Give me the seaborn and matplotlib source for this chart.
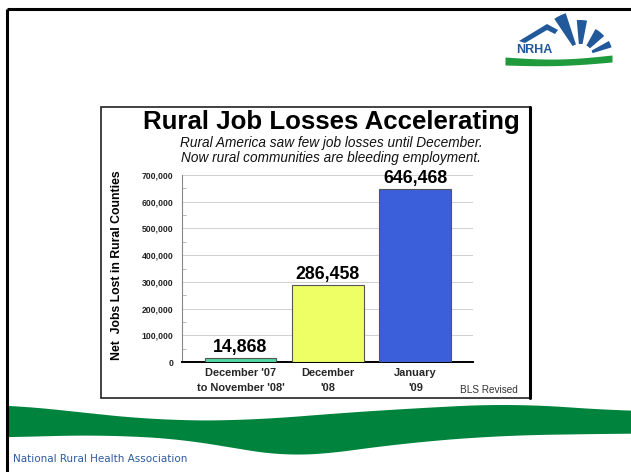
import matplotlib
matplotlib.use("Agg")
import matplotlib.pyplot as plt
import seaborn as sns
import pandas as pd
import numpy as np
from matplotlib.patches import Rectangle, Polygon, Wedge
from matplotlib.ticker import FuncFormatter, MultipleLocator

# ---- data ----
categories = ["December '07\nto November '08'", "December\n'08", "January\n'09"]
jobs_lost = [14868, 286458, 646468]
value_labels = ["14,868", "286,458", "646,468"]
bar_colors = ["#4fd8a2", "#eeff66", "#3b5fdb"]
yticks = [0, 100000, 200000, 300000, 400000, 500000, 600000, 700000]

title = "Rural Job Losses Accelerating"
subtitle = "Rural America saw few job losses until December.\nNow rural communities are bleeding employment."
ylabel = "Net  Jobs Lost in Rural Counties"
source = "BLS Revised"
footer = "National Rural Health Association"

sns.set_theme(style="white")
plt.rcParams['font.family'] = ['Liberation Sans', 'DejaVu Sans']

W, H = 631, 472
fig = plt.figure(figsize=(W / 100, H / 100), dpi=100)

# background / decoration axes in pixel coordinates
bg = fig.add_axes([0, 0, 1, 1])
bg.set_xlim(0, W)
bg.set_ylim(H, 0)
bg.axis("off")

# slide border
bg.plot([7, W], [9, 9], color="black", lw=2.2, solid_capstyle="butt")
bg.plot([7, 7], [9, H], color="black", lw=2.2, solid_capstyle="butt")


def smooth(y, k=25):
    pad = np.pad(y, k, mode="edge")
    ker = np.ones(2 * k + 1) / (2 * k + 1)
    return np.convolve(pad, ker, mode="same")[k:-k]


# green wave
xs_top = [8, 100, 160, 250, 320, 410, 510, 631]
ys_top = [404, 414, 420, 420, 414, 408, 403, 411]
xs_bot = [8, 100, 200, 267, 300, 400, 500, 631]
ys_bot = [437, 434, 440, 455, 457, 443, 435, 433]
xx = np.linspace(8, 631, 300)
top = smooth(np.interp(xx, xs_top, ys_top))
bot = smooth(np.interp(xx, xs_bot, ys_bot))
bg.fill_between(xx, top, bot, color="#00833d", lw=0, zorder=1)

# footer
bg.text(13, 459, footer, fontsize=7.5, color="#2d5a9e", va="center", ha="left",
        family=["DejaVu Sans"])

# NRHA logo (approximation)
cx, cy = 580, 57
blue = "#22599b"
for a1, a2, r1, r2 in [(108, 124, 13, 46), (79, 95, 13, 37), (41, 61, 13, 32),
                       (17, 29, 13, 33)]:
    bg.add_patch(Wedge((cx, cy), r2, -a2, -a1, width=r2 - r1,
                       color=blue, lw=0, zorder=3))
bg.add_patch(Polygon([[519, 41], [547, 24], [558, 30], [555, 34], [547, 30],
                      [525, 43]], closed=True, color=blue, lw=0, zorder=3))
bg.add_patch(Wedge((cx, cy), 13, 180, 360, color="white", lw=0, zorder=3))
lx = np.linspace(505, 612, 60)
t = (lx - 505) / 107
ltop = 57 + 3 * np.sin(t * np.pi) - 2 * t
lbot = 65 + 2 * np.sin(t * np.pi) - 3 * t
bg.fill_between(lx, ltop, lbot, color="#1f9a3c", lw=0, zorder=3)
bg.text(534, 50, "NRHA", fontsize=9, fontweight="bold", color=blue,
        ha="center", va="center", zorder=4)

# chart image frame
bg.add_patch(Rectangle((101, 107), 429, 291, fill=True, facecolor="white",
                       edgecolor="#222222", lw=1.2, zorder=2))
bg.plot([530, 530], [107, 398], color="black", lw=2.2, zorder=3)

bg.text(331, 122, title, fontsize=18.6, fontweight="bold", ha="center",
        va="center", color="black", zorder=3)
bg.text(331, 150.5, subtitle, fontsize=9.8, style="italic", ha="center",
        va="center", color="#111111", linespacing=1.15, zorder=3)
bg.text(518, 390, source, fontsize=7.2, ha="right", va="center",
        color="#333333", zorder=3)
bg.text(117, 265, ylabel, fontsize=8.8, fontweight="bold", rotation=90,
        ha="center", va="center", color="black", zorder=3)

# ---- chart axes ----
ax_left, ax_right, ax_top, ax_bot = 182, 473, 175, 362
ax = fig.add_axes([ax_left / W, 1 - ax_bot / H, (ax_right - ax_left) / W,
                   (ax_bot - ax_top) / H])
ax.set_zorder(5)
ax.patch.set_alpha(0)

df = pd.DataFrame({"period": categories, "jobs": jobs_lost})
sns.barplot(data=df, x="period", y="jobs", hue="period", palette=bar_colors,
            saturation=1, width=0.82, edgecolor="#555555", linewidth=0.8,
            legend=False, ax=ax, zorder=3)

ax.set_xlim(-0.67, 2.66)
ax.set_ylim(0, 700000)
ax.set_yticks(yticks)
ax.yaxis.set_major_formatter(FuncFormatter(lambda v, p: f"{int(v):,}"))
ax.yaxis.set_minor_locator(MultipleLocator(50000))
ax.grid(axis="y", color="#d0d0d0", lw=0.7, zorder=0)
ax.set_axisbelow(True)
ax.set_xlabel("")
ax.set_ylabel("")
for s in ["top", "right"]:
    ax.spines[s].set_visible(False)
ax.spines["left"].set_color("#888888")
ax.spines["left"].set_linewidth(0.8)
ax.spines["bottom"].set_color("black")
ax.spines["bottom"].set_linewidth(1.4)
ax.tick_params(axis="y", which="major", labelsize=6.2, length=0, pad=6,
               labelcolor="#222222")
ax.tick_params(axis="y", which="minor", direction="in", length=3, color="#aaaaaa",
               width=0.6, left=True)
ax.tick_params(axis="x", labelsize=7.9, length=0, pad=4.5)
for lbl in ax.get_yticklabels():
    lbl.set_fontweight("bold")
for lbl in ax.get_xticklabels():
    lbl.set_fontweight("bold")
    lbl.set_linespacing(1.65)

for i, (v, t) in enumerate(zip(jobs_lost, value_labels)):
    ax.annotate(t, (i, v), xytext=(0, 1.5), textcoords="offset points",
                ha="center", va="bottom", fontsize=12.8, fontweight="bold",
                color="black")

fig.savefig("out.png", dpi=100)
